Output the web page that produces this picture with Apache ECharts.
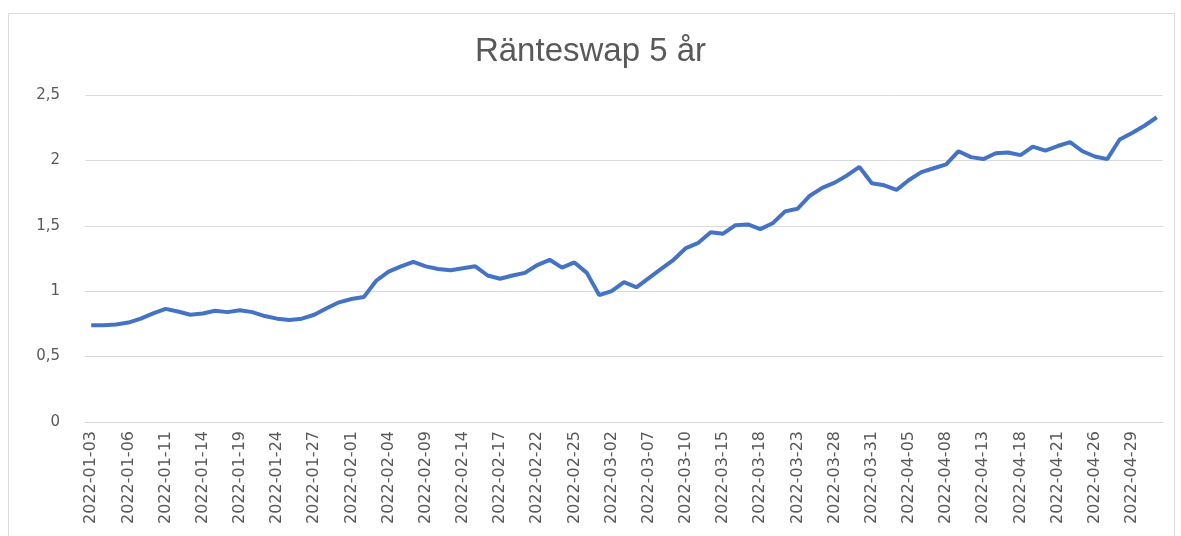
<!DOCTYPE html>
<html>
<head>
<meta charset="utf-8">
<title>Ränteswap 5 år</title>
<script src="https://cdn.jsdelivr.net/npm/echarts@6/dist/echarts.min.js"></script>
<style>
  html, body { margin: 0; padding: 0; background: #fff; }
  #chart { width: 1181px; height: 536px; }
</style>
</head>
<body>
<div id="chart"></div>
<script>
// bankdagar 2022-01-03 .. 2022-05-03
const dates = [
  '2022-01-03', '2022-01-04', '2022-01-05', '2022-01-06', '2022-01-07', '2022-01-10', '2022-01-11',
  '2022-01-12', '2022-01-13', '2022-01-14', '2022-01-17', '2022-01-18', '2022-01-19', '2022-01-20',
  '2022-01-21', '2022-01-24', '2022-01-25', '2022-01-26', '2022-01-27', '2022-01-28', '2022-01-31',
  '2022-02-01', '2022-02-02', '2022-02-03', '2022-02-04', '2022-02-07', '2022-02-08', '2022-02-09',
  '2022-02-10', '2022-02-11', '2022-02-14', '2022-02-15', '2022-02-16', '2022-02-17', '2022-02-18',
  '2022-02-21', '2022-02-22', '2022-02-23', '2022-02-24', '2022-02-25', '2022-02-28',
  '2022-03-01', '2022-03-02', '2022-03-03', '2022-03-04', '2022-03-07', '2022-03-08', '2022-03-09',
  '2022-03-10', '2022-03-11', '2022-03-14', '2022-03-15', '2022-03-16', '2022-03-17', '2022-03-18',
  '2022-03-21', '2022-03-22', '2022-03-23', '2022-03-24', '2022-03-25', '2022-03-28', '2022-03-29',
  '2022-03-30', '2022-03-31',
  '2022-04-01', '2022-04-04', '2022-04-05', '2022-04-06', '2022-04-07', '2022-04-08', '2022-04-11',
  '2022-04-12', '2022-04-13', '2022-04-14', '2022-04-15', '2022-04-18', '2022-04-19', '2022-04-20',
  '2022-04-21', '2022-04-22', '2022-04-25', '2022-04-26', '2022-04-27', '2022-04-28', '2022-04-29',
  '2022-05-02', '2022-05-03'
]

const swap5y = [
  0.74, 0.74, 0.745, 0.76, 0.79, 0.83, 0.865, 0.845, 0.82, 0.83,
  0.85, 0.84, 0.855, 0.84, 0.81, 0.79, 0.78, 0.79, 0.82, 0.87,
  0.915, 0.94, 0.955, 1.08, 1.15, 1.19, 1.225, 1.19, 1.17, 1.16,
  1.175, 1.19, 1.12, 1.095, 1.12, 1.14, 1.20, 1.24, 1.18, 1.22,
  1.14, 0.97, 1.0, 1.07, 1.03, 1.10, 1.17, 1.24, 1.33, 1.37,
  1.45, 1.44, 1.505, 1.51, 1.475, 1.52, 1.61, 1.63, 1.73, 1.79,
  1.83, 1.885, 1.95, 1.825, 1.81, 1.775, 1.85, 1.91, 1.94, 1.97,
  2.07, 2.025, 2.01, 2.055, 2.06, 2.04, 2.105, 2.075, 2.11, 2.14,
  2.07, 2.03, 2.01, 2.16, 2.21, 2.265, 2.33
]

const yTicks = { min: 0, max: 2.5, interval: 0.5 }

const chart = echarts.init(document.getElementById('chart'))
const textColor = '#595959'

chart.setOption({
  backgroundColor: '#fff',
  animation: false,
  title: {
    text: 'Ränteswap 5 år',
    left: 'center',
    top: 30,
    textStyle: {
      color: textColor,
      fontFamily: 'Liberation Sans',
      fontSize: 33,
      fontWeight: 'normal'
    }
  },
  // ram runt diagramytan
  graphic: [{
    type: 'rect',
    shape: { x: 8.5, y: 13.5, width: 1166, height: 540 },
    style: { fill: 'none', stroke: '#d9d9d9', lineWidth: 1 },
    silent: true
  }],
  grid: {
    left: 85,
    right: 18,
    top: 95,
    bottom: 114
  },
  xAxis: {
    type: 'category',
    data: dates,
    boundaryGap: true,
    axisLine: { lineStyle: { color: '#d9d9d9', width: 1 } },
    axisTick: { show: false },
    axisLabel: {
      interval: 2,
      rotate: 90,
      margin: 9,
      color: textColor,
      fontFamily: 'DejaVu Sans',
      fontSize: 16
    }
  },
  yAxis: {
    type: 'value',
    min: yTicks.min,
    max: yTicks.max,
    interval: yTicks.interval,
    axisLine: { show: false },
    axisTick: { show: false },
    splitLine: { lineStyle: { color: '#d9d9d9', width: 1 } },
    axisLabel: {
      margin: 25,
      color: textColor,
      fontFamily: 'DejaVu Sans',
      fontSize: 15,
      formatter: v => String(v).replace('.', ',')
    }
  },
  series: [{
    name: 'Ränteswap 5 år',
    type: 'line',
    data: swap5y,
    showSymbol: false,
    lineStyle: { color: '#4472C4', width: 4 },
    itemStyle: { color: '#4472C4' }
  }]
})
</script>
</body>
</html>
